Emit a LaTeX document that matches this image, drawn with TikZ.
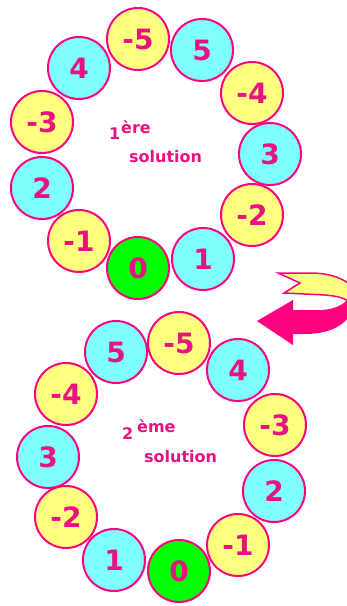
\documentclass[tikz,border=0pt]{standalone}
\usepackage{fontspec}
\setmainfont{DejaVu Sans}
\definecolor{rim}{RGB}{255,0,128}
\definecolor{ink}{RGB}{232,18,128}
\definecolor{pale}{RGB}{255,255,128}
\definecolor{sky}{RGB}{128,255,255}
\definecolor{leaf}{RGB}{0,255,0}
\tikzset{
  ball/.style={circle,draw=rim,line width=2pt,minimum size=62pt,inner sep=0pt,
    text=ink,font=\bfseries\fontsize{28}{28}\selectfont},
  plusball/.style={ball,fill=sky},
  minusball/.style={ball,fill=pale},
  zeroball/.style={ball,fill=leaf},
  lbl/.style={text=ink,inner sep=0pt,anchor=base west,
    font=\bfseries\fontsize{16}{16}\selectfont}
}

\begin{document}
\begin{tikzpicture}[x=1pt,y=-1pt]
\useasboundingbox (0,0) rectangle (347,606);
% first solution
\node[minusball] (am5) at (138,39) {-5};
\node[plusball] (a5) at (202,50) {5};
\node[plusball] (a4) at (79,68) {4};
\node[minusball] (am4) at (252,93) {-4};
\node[minusball] (am3) at (42,122) {-3};
\node[plusball] (a3) at (270,154) {3};
\node[plusball] (a2) at (42,188) {2};
\node[minusball] (am2) at (252,215) {-2};
\node[minusball] (am1) at (79,241) {-1};
\node[plusball] (a1) at (203,259) {1};
\node[zeroball] (a0) at (138,268) {0};
\node[lbl] (anum) at (109,139) {1};
\node[lbl] (asup) at (121,133) {ère};
\node[lbl] (asol) at (129,162) {solution};
% turning arrow
\filldraw[fill=pale,draw=rim,line width=1.5pt] (278,273) -- (300,283) -- (284,293) -- (325,295)
  .. controls (337,296) and (344,298) .. (348,301) -- (348,283)
  .. controls (338,276) and (325,273) .. (310,273) -- cycle;
\fill[rim] (257,321) -- (293,300) -- (293,310) -- (322,310)
  .. controls (335,309) and (343,305) .. (348,299) -- (348,318)
  .. controls (340,328) and (325,334) .. (305,334) -- (293,334) -- (293,345) -- cycle;
% second solution
\node[plusball] (b5) at (116,352) {5};
\node[plusball] (b4) at (238,370) {4};
\node[minusball] (bm5) at (179,343) {-5};
\node[minusball] (bm4) at (66,394) {-4};
\node[minusball] (bm3) at (275,425) {-3};
\node[plusball] (b3) at (48,457) {3};
\node[plusball] (b2) at (274,491) {2};
\node[minusball] (bm2) at (66,517) {-2};
\node[minusball] (bm1) at (238,545) {-1};
\node[plusball] (b1) at (114,560) {1};
\node[zeroball] (b0) at (179,571) {0};
\node[lbl] (bnum) at (122,439) {2};
\node[lbl] (bsup) at (137,432) {ème};
\node[lbl] (bsol) at (144,462) {solution};
\end{tikzpicture}
\end{document}
